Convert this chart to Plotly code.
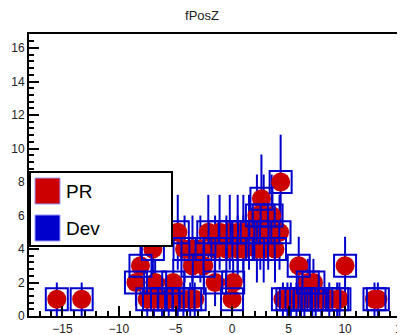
import numpy as np
import plotly.graph_objects as go

# counts per position, PR and Dev overlap
pr_x = [-15.5, -13.3, -7.5, -6.9, -6.2, -5.6, -4.8, -4.3, -3.7, -3.3, 0.0,
        4.5, 4.9, 5.2, 5.7, 6.1, 6.4, 7.1, 7.4, 7.9, 8.6, 9.3, 9.5, 12.6, 12.9,
        -8.5, -6.8, -5.2, -1.5, 0.1, 6.7, 7.2,
        -8.1, -3.5, -2.5, 5.9, 10.0,
        -7.0, -4.2, -3.5, -2.8, -1.5, -0.5, 0.5, 1.0, 2.2, 2.8, 3.8,
        -4.8, -2.1, -1.1, -0.2, 0.5, 1.0, 1.5, 2.5, 3.2, 4.2,
        2.2, 2.8, 3.5,
        2.6,
        4.3]
pr_y = [1] * 25 + [2] * 7 + [3] * 5 + [4] * 11 + [5] * 10 + [6] * 3 + [7] + [8]

dev_x = list(pr_x)
dev_y = list(pr_y)
dev_err = list(np.sqrt(dev_y))

red = '#cc0000'
blue = '#0000cc'

fig = go.Figure()

# Dev error bars (drawn first so the PR dots sit on them)
fig.add_trace(go.Scatter(x=dev_x, y=dev_y, mode='markers',
                         marker=dict(size=1, color='rgba(0,0,0,0)'),
                         error_y=dict(type='data', array=dev_err, visible=True,
                                      color=blue, thickness=2, width=0),
                         showlegend=False, hoverinfo='skip'))
# PR
fig.add_trace(go.Scatter(x=pr_x, y=pr_y, mode='markers', name='PR',
                         marker=dict(symbol='circle', size=19, color=red,
                                     line=dict(width=0)),
                         showlegend=False))
# Dev boxes
fig.add_trace(go.Scatter(x=dev_x, y=dev_y, mode='markers', name='Dev',
                         marker=dict(symbol='square-open', size=22, color=blue,
                                     line=dict(width=2, color=blue)),
                         showlegend=False))

# page body has an 8px margin, so the figure is shifted by that much
OFF = 8
W, H = 405 - OFF, 335 - OFF
L, R, T, B = 29 - OFF, 0, 34 - OFF, 19
pw, ph = W - L - R, H - T - B

def px2x(p):
    return (p - OFF - L) / pw

def py2y(p):
    return (H - B - (p - OFF)) / ph

# hand-made legend like the ROOT one (window pixel positions)
shapes = [
    dict(type='rect', xref='paper', yref='paper',
         x0=px2x(30), x1=px2x(172), y0=py2y(246), y1=py2y(172),
         fillcolor='white', line=dict(color='black', width=2), layer='above'),
    dict(type='rect', xref='paper', yref='paper',
         x0=px2x(35), x1=px2x(60), y0=py2y(204), y1=py2y(178),
         fillcolor=red, line=dict(color='#9999ff', width=1), layer='above'),
    dict(type='rect', xref='paper', yref='paper',
         x0=px2x(35), x1=px2x(60), y0=py2y(241), y1=py2y(215),
         fillcolor=blue, line=dict(color='#9999ff', width=1), layer='above'),
]
annotations = [
    dict(text='PR', xref='paper', yref='paper', x=px2x(64), y=py2y(191),
         xanchor='left', yanchor='middle', showarrow=False,
         font=dict(size=19, color='black')),
    dict(text='Dev', xref='paper', yref='paper', x=px2x(64), y=py2y(228),
         xanchor='left', yanchor='middle', showarrow=False,
         font=dict(size=19, color='black')),
]

fig.update_layout(
    width=W, height=H,
    margin=dict(l=L, r=R, t=T, b=B, autoexpand=False),
    paper_bgcolor='white', plot_bgcolor='white',
    font=dict(family='Liberation Sans, Arial, sans-serif', size=12, color='#222'),
    title=dict(text='fPosZ', x=(202 - OFF) / W, xref='container', xanchor='center',
               y=1 - 7 / H, yanchor='middle',
               font=dict(size=13, color='#222'), automargin=False),
    shapes=shapes, annotations=annotations,
    showlegend=False,
)
fig.update_xaxes(range=[-17.96, 15.3], showgrid=False, zeroline=False,
                 automargin=False, ticklabeloverflow='allow',
                 showline=True, linecolor='black', linewidth=2, mirror=True,
                 ticks='inside', ticklen=10, tickwidth=2, tickcolor='black',
                 dtick=5, tick0=0, ticklabelstandoff=1,
                 minor=dict(ticks='inside', ticklen=5, tickwidth=2,
                            tickcolor='black', dtick=1, showgrid=False))
fig.update_yaxes(range=[0, 16.84], showgrid=False, zeroline=False,
                 automargin=False,
                 showline=True, linecolor='black', linewidth=2,
                 ticks='inside', ticklen=10, tickwidth=2, tickcolor='black',
                 dtick=2, tick0=0,
                 minor=dict(ticks='inside', ticklen=5, tickwidth=2,
                            tickcolor='black', dtick=0.4, showgrid=False))

fig.write_html("out.html")
